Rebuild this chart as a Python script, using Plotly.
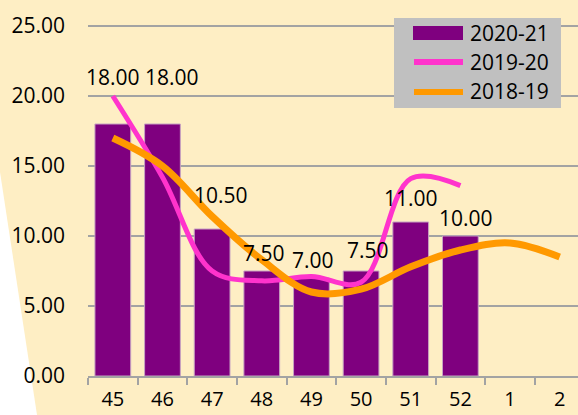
import plotly.graph_objects as go

# ---- data ----
weeks = ["45", "46", "47", "48", "49", "50", "51", "52", "1", "2"]
s2020_21 = [18.0, 18.0, 10.5, 7.5, 7.0, 7.5, 11.0, 10.0]
s2019_20 = [20.0, 14.2, 7.5, 6.8, 7.1, 6.7, 14.1, 13.6]
s2018_19 = [17.0, 15.0, 11.4, 8.3, 6.0, 6.2, 7.8, 9.0, 9.5, 8.5]
names = ["2020-21", "2019-20", "2018-19"]
y_ticks = [0, 5, 10, 15, 20, 25]

# label placement (style): pixel offsets of data labels
label_yshift = [47, 47, 34, 18, 18, 21, 24, 18]
label_xshift = [0, 10, 9, 2, 2, 7, 0, 6]

# ---- style ----
W, H = 578, 415
ML, MR, MT, MB = 88, 0, 0, 39
BG = "#FEEEC4"
PURPLE = "#7F007F"
PINK = "#FF33CC"
ORANGE = "#FF9900"
GRID = "#A3A3A3"
FONT = "Open Sans"
FS = 21
PX_PER_CAT = 49.65
PX_PER_UNIT = 14.0

pw = W - ML - MR
ph = H - MT - MB


def px(x):
    return (x - ML) / pw


def py(y):
    return (H - MB - y) / ph


fig = go.Figure()
fig.add_trace(go.Bar(
    x=weeks[:len(s2020_21)], y=s2020_21, name=names[0],
    marker=dict(color=PURPLE, line=dict(color="#C7A3C2", width=1)),
    width=0.72, showlegend=False,
))
fig.add_trace(go.Scatter(
    x=weeks[:len(s2019_20)], y=s2019_20, name=names[1], mode="lines",
    line=dict(color=PINK, width=5, shape="spline", smoothing=1.0),
    showlegend=False,
))
fig.add_trace(go.Scatter(
    x=weeks[:len(s2018_19)], y=s2018_19, name=names[2], mode="lines",
    line=dict(color=ORANGE, width=7, shape="spline", smoothing=1.0),
    showlegend=False,
))

# data labels (category axis -> use the category's serial index)
for i, v in enumerate(s2020_21):
    fig.add_annotation(
        x=weeks.index(weeks[i]), y=v, text=f"{v:.2f}", showarrow=False,
        yshift=label_yshift[i], xshift=label_xshift[i],
        font=dict(family=FONT, size=FS, color="black"),
    )

shapes = []
# white wedge at the lower left
shapes.append(dict(
    type="path", xref="paper", yref="paper", layer="below",
    path=f"M {px(0)},{py(172)} L {px(37)},{py(415)} L {px(0)},{py(415)} Z",
    fillcolor="white", line=dict(width=0),
))
# custom legend
shapes.append(dict(
    type="rect", xref="paper", yref="paper",
    x0=px(394), x1=px(561), y0=py(18), y1=py(108),
    fillcolor="#C0C0C0", line=dict(width=0),
))
shapes.append(dict(
    type="rect", xref="paper", yref="paper",
    x0=px(413), x1=px(463), y0=py(26), y1=py(40),
    fillcolor=PURPLE, line=dict(width=0),
))
shapes.append(dict(
    type="line", xref="paper", yref="paper",
    x0=px(414), x1=px(463), y0=py(62), y1=py(62),
    line=dict(color=PINK, width=6),
))
shapes.append(dict(
    type="line", xref="paper", yref="paper",
    x0=px(414), x1=px(463), y0=py(92), y1=py(92),
    line=dict(color=ORANGE, width=6),
))
for name, yy in zip(names, [33, 62, 91]):
    fig.add_annotation(
        xref="paper", yref="paper", x=px(468), y=py(yy), text=name,
        showarrow=False, xanchor="left", yanchor="middle",
        font=dict(family=FONT, size=FS, color="black"),
    )

fig.update_layout(
    width=W, height=H,
    margin=dict(l=ML, r=MR, t=MT, b=MB, pad=0, autoexpand=False),
    paper_bgcolor=BG, plot_bgcolor=BG,
    font=dict(family=FONT, size=FS, color="black"),
    shapes=shapes,
    xaxis=dict(
        type="category", categoryorder="array", categoryarray=weeks,
        range=[-0.5, -0.5 + pw / PX_PER_CAT],
        showgrid=False, showline=True, linecolor=GRID, linewidth=1.5,
        ticks="outside", tickson="boundaries", ticklen=7, tickwidth=1.5,
        tickcolor=GRID, ticklabelstandoff=4, automargin=False,
        tickfont=dict(family=FONT, size=20, color="black"),
        fixedrange=True,
    ),
    yaxis=dict(
        range=[0, ph / PX_PER_UNIT],
        tickvals=y_ticks, ticktext=[f"{t:.2f}" for t in y_ticks],
        showgrid=True, gridcolor=GRID, gridwidth=1.5,
        zeroline=False, showline=False, ticks="",
        ticklabelstandoff=22, automargin=False,
        tickfont=dict(family=FONT, size=FS, color="black"),
        fixedrange=True,
    ),
)

fig.write_html(
    "out.html",
    config={"displayModeBar": False},
    post_script="document.body.style.margin='0';document.body.style.overflow='hidden';",
)
